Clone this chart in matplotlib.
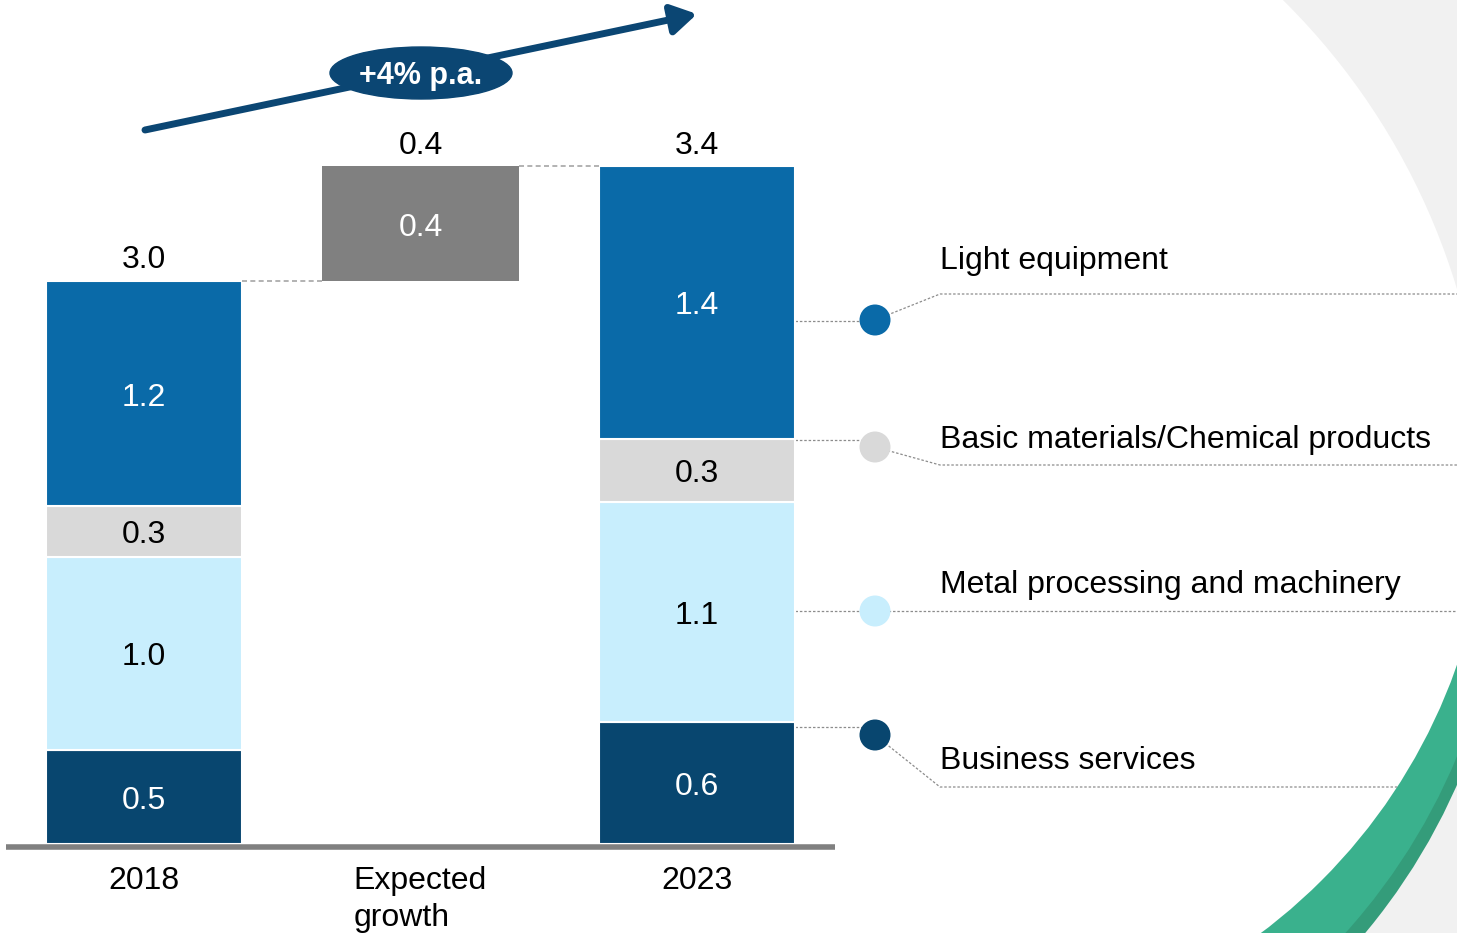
import numpy as np
import matplotlib.pyplot as plt
from matplotlib.patches import Circle, Ellipse, Rectangle

plt.rcParams['font.family'] = ['Liberation Sans', 'DejaVu Sans']

# data (heights as drawn, labels as printed)
categories = ['2018', 'Expected\ngrowth', '2023']
segments = ['Business services', 'Metal processing and machinery',
            'Basic materials/Chemical products', 'Light equipment']
height_2018 = [0.50, 1.03, 0.27, 1.20]
height_2023 = [0.65, 1.17, 0.34, 1.45]
label_2018 = ['0.5', '1.0', '0.3', '1.2']
label_2023 = ['0.6', '1.1', '0.3', '1.4']
growth_height = 0.61
growth_label = '0.4'
total_labels = ['3.0', '0.4', '3.4']
cagr_label = '+4% p.a.'

colors = ['#08466f', '#c8eefd', '#d9d9d9', '#0a6aa8']
text_colors = ['white', 'black', 'black', 'white']
navy = '#0b4673'
FS = 23

W, H = 1457, 933
fig = plt.figure(figsize=(W / 100, H / 100), dpi=100)

# background layer in pixel coordinates
bg = fig.add_axes([0, 0, 1, 1], zorder=0)
bg.set_xlim(0, W)
bg.set_ylim(H, 0)
bg.axis('off')

inner_c, inner_r = (918, 476.5), 571
bg.add_patch(Rectangle((1100, 0), 400, H, color='#f1f1f1', lw=0, zorder=0.1))
bg.add_patch(Circle((803, 486), 683, color='white', lw=0, zorder=0.2))
clip = Rectangle((1150, 320), 400, H, transform=bg.transData)
for c, r, col in [((887.5, 534.7), 622, '#349c7a'),
                  ((885.5, 518.7), 619, '#3ab18d'),
                  (inner_c, inner_r, 'white')]:
    p = Circle(c, r, color=col, lw=0, zorder=0.3)
    bg.add_patch(p)
    p.set_clip_path(clip)

# growth arrow + bubble
bg.annotate('', xy=(697, 14), xytext=(145, 130),
            arrowprops=dict(arrowstyle='-|>,head_length=1.0,head_width=0.6',
                            color=navy, lw=5, shrinkA=0, shrinkB=0,
                            mutation_scale=15))
bg.add_patch(Ellipse((421, 73), 182, 52, color=navy, zorder=3))
bg.text(421, 76, cagr_label, color='white', fontsize=FS - 1, fontweight='bold',
        ha='center', va='center', zorder=4)

# legend with connectors
mark_x = 875
mark_y = [735, 611, 447, 320]
start_y = [727, 611, 440, 321]
line_y = [787, 611, 465, 294]
text_y = [761, 585, 440, 261]
ls = (0, (2, 1.5))
for i, name in enumerate(segments):
    dy = line_y[i] - inner_c[1]
    x_end = min(W, inner_c[0] + np.sqrt(max(inner_r ** 2 - dy ** 2, 0)))
    bg.plot([795, mark_x], [start_y[i]] * 2, color='#8c8c8c', lw=0.9, ls=ls, zorder=2)
    bg.plot([mark_x, 940, x_end], [mark_y[i], line_y[i], line_y[i]],
            color='#8c8c8c', lw=0.9, ls=ls, zorder=2)
    bg.add_patch(Circle((mark_x, mark_y[i]), 15.5, color=colors[i], lw=0, zorder=3))
    bg.text(940, text_y[i], name, fontsize=FS, ha='left', va='center', zorder=4)

# main chart
px_per_unit = 187.7
ax = fig.add_axes([6 / W, 0, 829 / W, 1], zorder=1)
ax.patch.set_alpha(0)
ax.set_xlim(-0.5, 2.5)
ax.set_ylim((844 - H) / px_per_unit, 844 / px_per_unit)
ax.axis('off')

x = np.arange(len(categories))
width = 0.71
nudge = 4 / px_per_unit  # text sits a little low in the source

for xi, heights, labels in [(0, height_2018, label_2018), (2, height_2023, label_2023)]:
    bottom = 0
    for i in range(4):
        ax.bar(xi, heights[i], width, bottom=bottom, color=colors[i],
               edgecolor='white', linewidth=1.5)
        ax.text(xi, bottom + heights[i] / 2 - nudge, labels[i], color=text_colors[i],
                fontsize=FS, ha='center', va='center')
        bottom += heights[i]

total_2018 = sum(height_2018)
total_2023 = sum(height_2023)
ax.bar(1, growth_height, width, bottom=total_2018, color='#808080')
ax.text(1, total_2018 + growth_height / 2 - nudge, growth_label, color='white',
        fontsize=FS, ha='center', va='center')

tops = [total_2018, total_2018 + growth_height, total_2023]
for xi, t, lab in zip(x, tops, total_labels):
    ax.annotate(lab, (xi, t), xytext=(0, 15), textcoords='offset points',
                ha='center', va='center', fontsize=FS)

dash = dict(color='#a6a6a6', lw=1.2, ls=(0, (3, 2)))
ax.plot([width / 2, 1 - width / 2], [total_2018] * 2, **dash)
ax.plot([1 + width / 2, 2 - width / 2], [total_2018 + growth_height] * 2, **dash)

ax.plot([-0.5, 2.5], [-3 / px_per_unit] * 2, color='#808080', lw=4, solid_capstyle='butt')

for xi, cat in zip(x, categories):
    ax.text(xi, -22 / px_per_unit, cat, fontsize=FS, ha='center', va='top',
            multialignment='left', linespacing=1.3)

fig.savefig('out.png', dpi=100)
